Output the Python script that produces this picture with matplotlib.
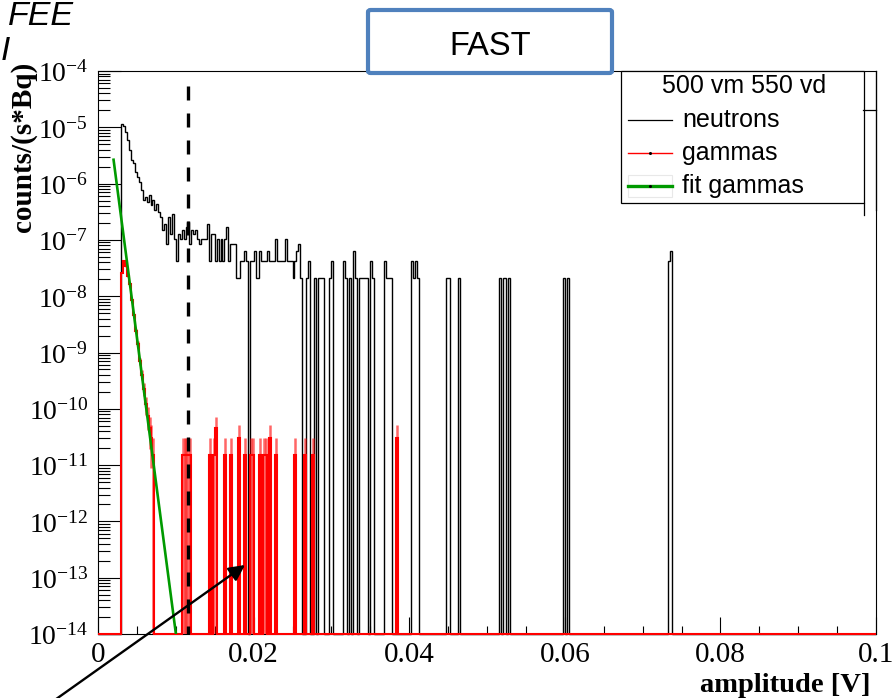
import numpy as np
import matplotlib
matplotlib.use("Agg")
import matplotlib.pyplot as plt
from matplotlib.patches import Rectangle, FancyBboxPatch
from matplotlib.lines import Line2D
from matplotlib.ticker import MultipleLocator, LogLocator, NullFormatter, FixedLocator

plt.rcParams["mathtext.fontset"] = "custom"
plt.rcParams["mathtext.rm"] = "Liberation Serif"
plt.rcParams["mathtext.it"] = "Liberation Serif:italic"
plt.rcParams["mathtext.bf"] = "Liberation Serif:bold"

W, H, DPI = 892, 698, 100

# ---- histogram binning -------------------------------------------------
n_bins = 400
x_min, x_max = 0.0, 0.1
y_min, y_max = 1e-14, 1e-4

# ---- neutrons: contiguous block from bin 12, then isolated bins --------
neutron_first_bin = 12
neutron_counts_dense = [
    538, 500, 400, 283, 188, 125, 110, 76, 62, 51,
    37, 24, 27, 22, 30, 20, 24, 16, 21, 15,
    12, 7, 9, 4, 12, 6, 14, 5, 2, 6,
    5, 7, 5, 8, 10, 4, 7, 6, 7, 5,
    4, 5, 5, 5, 9, 2, 6, 6, 2, 5,
    2, 5, 2, 5, 8, 2, 4, 4, 4, 1,
    1, 2, 2, 3, 2, 0, 2, 2, 3, 1,
    1, 3, 2, 2, 2, 3, 2, 2, 2, 5,
    2, 2, 2, 2, 5, 2, 2, 2, 1, 2,
    3, 4, 1,
]
neutron_sparse_bins = [107, 108, 111, 113, 114, 115, 119, 120, 126, 127,
                       129, 131, 132, 134, 135, 136, 137, 138, 140, 141,
                       147, 148, 149, 150, 161, 162, 163, 164, 179, 180,
                       185, 206, 208, 209, 211, 239, 241, 293, 294]
neutron_sparse_counts = [1, 2, 1, 1, 1, 1, 1, 2, 2, 1,
                         1, 3, 1, 1, 1, 1, 1, 1, 2, 1,
                         2, 1, 1, 1, 2, 1, 2, 1, 1, 1,
                         1, 1, 1, 1, 1, 1, 1, 2, 3]
neutron_weight = 2.1e-8      # counts/(s*Bq) per entry

# ---- gammas -----------------------------------------------------------
gamma_first_bin = 12
gamma_counts_dense = [1730, 2850, 2270, 1500, 1100, 560, 310, 160, 95, 47,
                      27, 15, 8, 5, 3, 2, 1]
gamma_sparse_bins = [43, 44, 45, 46, 47, 57, 59, 60, 65, 68, 72, 75, 78,
                     79, 83, 85, 86, 88, 91, 101, 106, 110, 153]
gamma_sparse_counts = [1, 1, 1, 1, 1, 1, 1, 3, 1, 1, 2, 1, 1,
                       1, 1, 1, 1, 2, 1, 1, 1, 1, 2]
gamma_weight = 1.5e-11

# ---- exponential fit of the gamma spectrum: exp(p0 + p1*x) -------------
fit_p0, fit_p1 = -8.0, -2420.0
fit_x_start, fit_x_end = 0.002, 0.0102

# ---- amplitude cut ----------------------------------------------------
cut_amplitude = 0.0116
cut_top = 5.4e-5

x_tick_values = [0.0, 0.02, 0.04, 0.06, 0.08, 0.1]
x_tick_labels = ["0", "0.02", "0.04", "0.06", "0.08", "0.1"]
y_tick_exponents = list(range(-14, -3))

legend_header = "500 vm 550 vd"
legend_labels = ["neutrons", "gammas", "fit gammas"]

C_RED = "#ff0000"
C_GREEN = "#009a00"
C_BLUE = "#4f81bd"


def fill_counts(first, dense, sparse_bins, sparse_counts):
    c = np.zeros(n_bins)
    c[first:first + len(dense)] = dense
    c[np.array(sparse_bins)] = sparse_counts
    return c


def fx(px):
    return px / W


def fy(py):
    return 1.0 - py / H


edges = np.linspace(x_min, x_max, n_bins + 1)
centers = 0.5 * (edges[:-1] + edges[1:])

n_counts = fill_counts(neutron_first_bin, neutron_counts_dense,
                       neutron_sparse_bins, neutron_sparse_counts)
g_counts = fill_counts(gamma_first_bin, gamma_counts_dense,
                       gamma_sparse_bins, gamma_sparse_counts)

n_vals = np.where(n_counts > 0, n_counts * neutron_weight, y_min)
g_vals = np.where(g_counts > 0, g_counts * gamma_weight, y_min)

fig = plt.figure(figsize=(W / DPI, H / DPI), dpi=DPI)
ax = fig.add_axes([fx(98), fy(634), fx(876) - fx(98), fy(71) - fy(634)])
ax.set_yscale("log")
ax.set_xlim(x_min, x_max)
ax.set_ylim(y_min, y_max)

# neutron and gamma spectra, outline style with empty bins on the floor
ax.stairs(n_vals, edges, baseline=None, color="black", lw=1.0,
          clip_on=False, zorder=3)
ax.stairs(g_vals, edges, baseline=None, color=C_RED, lw=1.5,
          clip_on=False, zorder=4)

# Poisson error bars on the gamma bins
nz = g_counts > 0
g_err = np.sqrt(g_counts[nz]) * gamma_weight
g_lo = np.maximum(g_vals[nz] - g_err, y_min)
g_hi = g_vals[nz] + g_err
ax.vlines(centers[nz], g_lo, g_hi, colors=C_RED, lw=1.8, alpha=0.6,
          zorder=4)

# exponential fit
fit_x = np.linspace(fit_x_start, fit_x_end, 100)
fit_y = np.exp(fit_p0 + fit_p1 * fit_x)
ax.plot(fit_x, fit_y, color=C_GREEN, lw=1.9, zorder=5)

# amplitude threshold
ax.plot([cut_amplitude, cut_amplitude], [cut_top, y_min], color="black",
        lw=2.4, linestyle=(0, (4.2, 3.9)), dash_capstyle="butt", zorder=6)

# axes styling
for s in ax.spines.values():
    s.set_linewidth(0.8)
ax.xaxis.set_major_locator(FixedLocator(x_tick_values))
ax.set_xticklabels(x_tick_labels, fontfamily="Liberation Serif")
ax.xaxis.set_minor_locator(MultipleLocator(0.005))
ax.tick_params(axis="x", which="major", direction="in", length=12.2,
               width=0.8, top=False, labelsize=21, pad=6)
ax.tick_params(axis="x", which="minor", direction="in", length=5.8,
               width=0.8, top=False)

ax.yaxis.set_major_locator(FixedLocator([10.0 ** e for e in y_tick_exponents]))
ax.set_yticklabels([r"$10^{%d}$" % e for e in y_tick_exponents])
ax.yaxis.set_minor_locator(LogLocator(base=10, subs=range(2, 10), numticks=100))
ax.yaxis.set_minor_formatter(NullFormatter())
ax.tick_params(axis="y", which="major", direction="in", length=16.6,
               width=0.8, right=False, labelsize=20, pad=7)
ax.tick_params(axis="y", which="minor", direction="in", length=8.6,
               width=0.8, right=False)

# axis titles
fig.text(fx(871), fy(692), "amplitude [V]", ha="right", va="baseline",
         fontsize=20.5, fontweight="bold", fontfamily="Liberation Serif")
fig.text(fx(24), fy(62), "counts/(s*Bq)", ha="center", va="top",
         rotation=90, fontsize=21, fontweight="bold",
         fontfamily="Liberation Serif")

# legend box
leg_l, leg_t, leg_r, leg_b = 620.7, 70.5, 864, 203
fig.add_artist(Rectangle((fx(leg_l), fy(leg_b)), fx(leg_r) - fx(leg_l),
                         fy(leg_t) - fy(leg_b), transform=fig.transFigure,
                         facecolor="white", edgecolor="black", lw=0.9,
                         zorder=10))
fig.text(fx(744), fy(86), legend_header, ha="center", va="center",
         fontsize=18, fontfamily="Liberation Sans", zorder=11)
row_y = [120, 153, 186]
row_style = [("black", 0.9, False), (C_RED, 1.0, True), (C_GREEN, 2.4, True)]
fig.add_artist(Rectangle((fx(628), fy(197)), fx(672) - fx(628),
                         fy(175) - fy(197), transform=fig.transFigure,
                         facecolor="none", edgecolor="#e8e8e8", lw=0.8,
                         zorder=11))
for yy, lab, (col, lw, dot) in zip(row_y, legend_labels, row_style):
    fig.add_artist(Line2D([fx(628), fx(672)], [fy(yy), fy(yy)],
                          transform=fig.transFigure, color=col, lw=lw,
                          zorder=12))
    if dot:
        fig.add_artist(Line2D([fx(650)], [fy(yy)], transform=fig.transFigure,
                              marker="o", ms=1.2, color="black", lw=0,
                              zorder=13))
    fig.text(fx(682), fy(yy), lab, ha="left", va="center", fontsize=18,
             fontfamily="Liberation Sans", zorder=12)

# small frame pieces at the right-hand edge
fig.add_artist(Line2D([fx(864), fx(864)], [fy(203), fy(215)],
                      transform=fig.transFigure, color="black", lw=0.9,
                      zorder=10))
fig.add_artist(Line2D([fx(863), fx(876)], [fy(110), fy(110)],
                      transform=fig.transFigure, color="black", lw=0.9,
                      zorder=10))
fig.add_artist(Line2D([fx(876), fx(876)], [fy(71), fy(210)],
                      transform=fig.transFigure, color="black", lw=0.9,
                      zorder=10))

# FAST label box
fig.add_artist(FancyBboxPatch((fx(368), fy(73)), fx(612) - fx(368),
                              fy(10) - fy(73),
                              boxstyle="round,pad=0,rounding_size=0.003",
                              transform=fig.transFigure, facecolor="white",
                              edgecolor=C_BLUE, lw=3.0, zorder=14))
fig.text(fx(490), fy(55), "FAST", ha="center", va="baseline", fontsize=23.5,
         fontfamily="Liberation Sans", zorder=15)

# FEE caption in the corner
fig.text(fx(8), fy(25), "FEE", ha="left", va="baseline", fontsize=24.5,
         style="italic", fontfamily="Liberation Sans", zorder=15)
fig.text(fx(0.5), fy(60), "I", ha="left", va="baseline", fontsize=24,
         style="italic", fontfamily="Liberation Sans", zorder=15)

# pointer arrow
ax.annotate("", xy=(fx(245), fy(565)), xycoords="figure fraction",
            xytext=(fx(52), fy(702)), textcoords="figure fraction",
            arrowprops=dict(arrowstyle="-|>", color="black", lw=1.7,
                            mutation_scale=24, shrinkA=0, shrinkB=0),
            annotation_clip=False, zorder=20)

fig.savefig("out.png", dpi=DPI)
